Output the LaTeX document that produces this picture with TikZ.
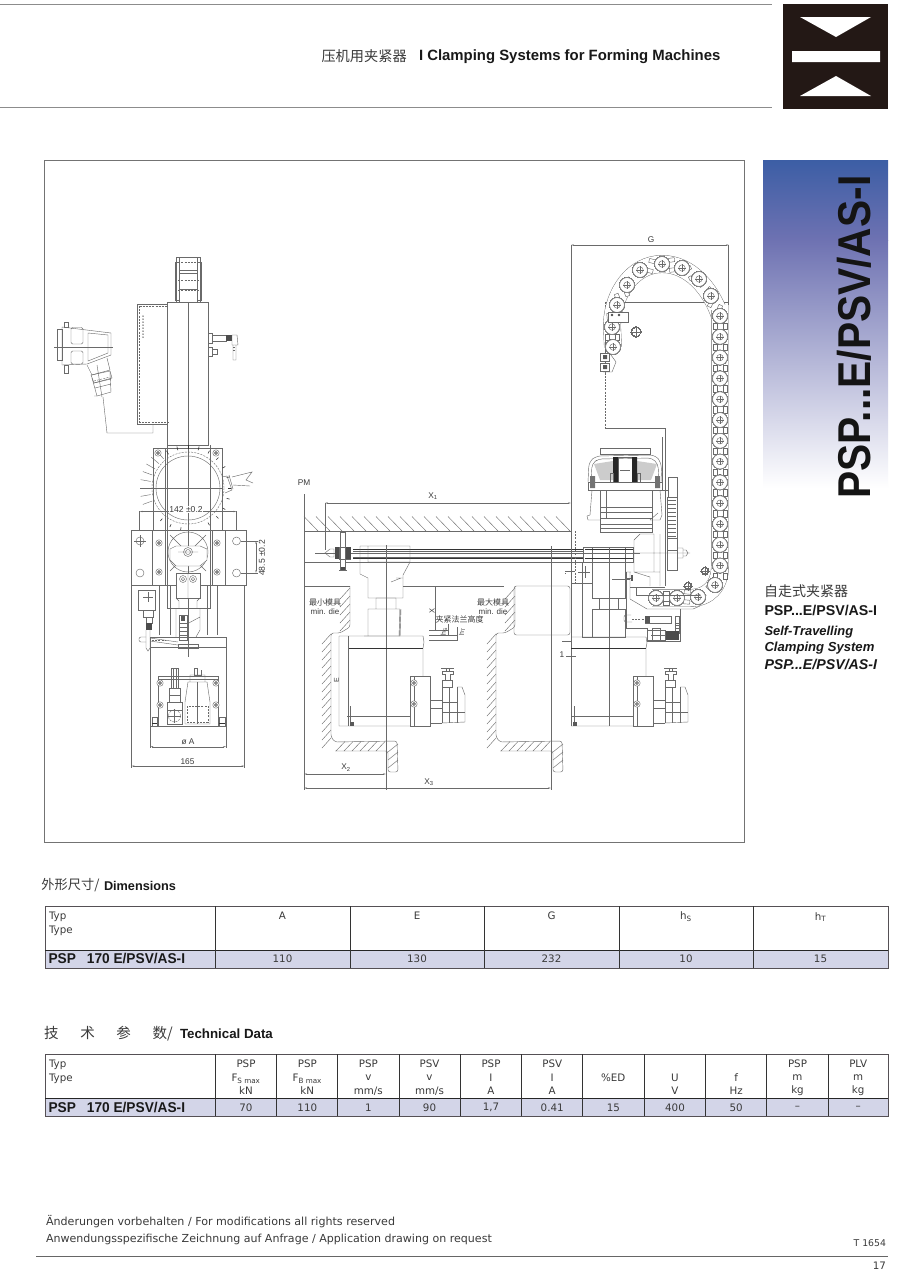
\documentclass[tikz,border=0pt]{standalone}
\usepackage{fontspec}
\usetikzlibrary{arrows.meta}
\setmainfont{Liberation Sans}
\newfontfamily\cjk{Noto Sans CJK SC}
\newfontfamily\tbf{DejaVu Sans}
\definecolor{lnc}{HTML}{6A6A6A}
\definecolor{txt}{HTML}{3A3A3A}
\definecolor{tbl}{HTML}{D3D5E8}
\definecolor{rule}{HTML}{555055}
\definecolor{logo}{HTML}{231815}
\newcount\nn
\newcommand{\T}[4][]{\global\advance\nn by 1 \node[tx,#1] (t\the\nn) at (#2,#3) {#4};}
\newcommand{\hole}[3]{\draw[ln,fill=white] (#1,#2) circle (#3);\draw[ln] (#1-#3-1,#2)--(#1+#3+1,#2) (#1,#2-#3-1)--(#1,#2+#3+1);}
\newcommand{\bolt}[2]{\draw[ln,fill=white] (#1,#2) circle (3.2);\draw[fill=lnc!70,draw=black!70,line width=.3] (#1,#2) circle (1.7);}
\newcommand{\link}[2]{\draw[ln,fill=white] (#1,#2) circle (7.4);\draw[ln] (#1,#2) circle (3.2);\draw[ln] (#1-3.6,#2)--(#1+3.6,#2) (#1,#2-3.6)--(#1,#2+3.6);}
\newcommand{\sep}[3]{\begin{scope}[shift={(#1,#2)},rotate=#3]\draw[ln,fill=white] (-7,-3.2) rectangle (-3,3.2) (3,-3.2) rectangle (7,3.2);\end{scope}}
\newcommand{\sym}[3]{\draw[dsh] (#1,#2) circle (#3);\draw[ln] (#1-#3-1,#2)--(#1+#3+1,#2) (#1,#2-#3-1)--(#1,#2+#3+1);}
\newcommand{\motorunit}[1]{\begin{scope}[shift={(#1,0)}]
 \draw[ln,fill=white] (410,676) rectangle (430,726);
 \draw[ln] (414,676)--(414,726);
 \bolt{414}{683}\bolt{414}{704}
 \draw[ln] (430,700)--(442,700) (430,708)--(442,708) (430,723)--(442,723);
 \draw[ln] (442,687)--(452,687)--(452,680)--(442,680)--(442,723) (457,687)--(457,723) (442,702)--(457,702) (449,687)--(449,723) (442,712)--(465,712);
 \draw[ln] (457,687)--(462,687)--(465,695)--(465,722)--(442,723);
 \draw[ln] (445,680)--(445,674)--(442,674)--(442,671)--(453,671)--(453,674)--(450,674)--(450,680) (446,671)--(446,668)--(449,668)--(449,671) (441,668)--(454,668);
 \end{scope}}
\newcommand{\diewall}[1]{\begin{scope}[shift={(#1,0)}]
 \draw[ln,rounded corners=2.5] (350,586)--(350,627)--(340,633)--(331,633)--(331,737)--(335,742)--(397,741)--(398,772)--(388,772)--(388,751)--(335,751);
 \foreach \y in {588,596,...,622} \draw[ln] (350,\y)--(340,\y+11);
 \foreach \y in {634,642,...,738} \draw[ln] (331,\y)--(322,\y+10);
 \foreach \x in {345,353,...,385} \draw[ln] (\x,741.5)--(\x-9,751);
 \foreach \y in {744,752,...,764} \draw[ln] (398,\y)--(388,\y+8);
 \end{scope}}
\tikzset{
 ln/.style={draw=lnc,line width=.42pt},
 dsh/.style={ln,dash pattern=on 2pt off 1.2pt},
 dk/.style={draw=black!80,line width=.8pt},
 blk/.style={fill=black!85,draw=none},
 dim/.style={ln,{Stealth[length=3pt,width=1.3pt]}-{Stealth[length=3pt,width=1.3pt]}},
 tx/.style={inner sep=0pt,outer sep=0pt,text=txt},
 tb/.style={tx,font=\tbf\fontsize{10.3}{12}\selectfont},
 tbb/.style={tx,font=\bfseries\fontsize{14.2}{16}\selectfont,text=black!90,anchor=west},
 lab/.style={tx,font=\fontsize{8.3}{10}\selectfont},
 cjl/.style={tx,font=\cjk\fontsize{8}{10}\selectfont},
 frame/.style={draw=rule,line width=.7pt},
}
\begin{document}
\begin{tikzpicture}[x=1pt,y=-1pt]
\useasboundingbox (0,0) rectangle (900,1275);
\fill[white] (0,0) rectangle (900,1275);
% ---- header
\draw[draw=black!45,line width=.8] (0,4)--(772,4) (0,107.5)--(772,107.5);
\fill[logo] (783,4) rectangle (888,109);
\fill[white] (800,17)--(871,17)--(836,37)--cycle (792,51) rectangle (880,62) (836,76)--(871,96)--(800,96)--cycle;
\T[anchor=west,font=\cjk\fontsize{14.2}{16}\selectfont]{321.5}{56}{压机用夹紧器}
\T[anchor=west,font=\bfseries\fontsize{14.9}{16}\selectfont,text=black!90]{419}{57}{I Clamping Systems for Forming Machines}
% ---- side panel
\shade[top color={rgb,255:red,110;green,114;blue,178},bottom color=white] (763,240) rectangle (888,488);
\shade[top color={rgb,255:red,60;green,94;blue,165},bottom color={rgb,255:red,110;green,114;blue,178}] (763,160) rectangle (888,240.3);
\T[rotate=90,anchor=base west,font=\bfseries\fontsize{46}{48}\selectfont,text=black!92]{870}{498.5}{\scalebox{0.885}[1]{PSP...E/PSV/AS-I}}
\T[anchor=west,font=\cjk\fontsize{14}{16}\selectfont]{764}{591}{自走式夹紧器}
\T[anchor=west,font=\bfseries\fontsize{14.2}{16}\selectfont,text=black!90]{764.5}{610.5}{PSP...E/PSV/AS-I}
\T[anchor=west,font=\bfseries\itshape\fontsize{12.9}{14}\selectfont,text=black!90]{764.5}{632.5}{Self-Travelling}
\T[anchor=west,font=\bfseries\itshape\fontsize{13.1}{14}\selectfont,text=black!90]{764.5}{648.5}{Clamping System}
\T[anchor=west,font=\bfseries\itshape\fontsize{14.2}{14}\selectfont,text=black!90]{764.5}{664.5}{PSP...E/PSV/AS-I}
% ---- frame
\draw[draw=black!55,line width=.7] (44.5,160.5) rectangle (744.5,842);

% ======== left view
\draw[ln] (176,257) rectangle (200,302) (179,257)--(179,302) (197,257)--(197,302) (179,270)--(197,270) (179,273)--(197,273) (179,289)--(197,289);
\draw[dsh] (175,262)--(201,262) (175,280)--(201,280) (175,290)--(201,290);
\draw[ln] (175,262) rectangle (179,300) (197,262) rectangle (201,300);
\draw[ln] (137.5,304) rectangle (167.7,424);
\draw[dsh] (139.5,306)--(139.5,422)--(167.7,422) (139.5,306)--(167.7,306);
\foreach \y in {316,319,...,338} \fill[black!70] (143,\y) circle (.75);
\draw[ln] (167.7,302) rectangle (208.5,445);
\draw[ln] (188,302)--(188,657);
\draw[ln] (167.7,445)--(167.7,608)--(210,608)--(210,445) (165,448)--(165,530);
% plug
\draw[ln] (62,327)--(111,333)--(111,355)--(87,364)--(62,365)--cycle;
\draw[ln,rounded corners=1.5] (71,327.5) rectangle (83,344) (71,351) rectangle (83,364);
\draw[ln] (88,333)--(108,335)--(108,353)--(88,361)--cycle;
\draw[ln] (57,329) rectangle (62,360) (64,322) rectangle (68,327) (64,365) rectangle (68,373);
\draw[ln] (54,347)--(113,347);
\draw[ln] (87,365)--(92,375)--(110,370)--(107,358) (97,365)--(102,397);
\draw[ln] (91,375)--(110,371)--(112,378)--(94,383)--cycle;
\draw[ln] (92,378)--(97,396)--(111,392)--(110,372) (94,383)--(111,379) (95,388)--(111,384) (97,396)--(94,396);
\draw[dsh] (94,381)--(110,377);
\draw[ln] (103,397)--(107,433)--(153,433)--(153,424);
% sensor top right
\draw[ln] (208.5,333) rectangle (212,343) (212,335) rectangle (226,341);
\fill[black!70] (226,335) rectangle (232,341);
\draw[ln] (232,335)--(237,335)--(238,345)--(232,345)--cycle (233,345) rectangle (236,360);
\draw[dsh] (233,347)--(236,347) (233,350)--(236,350);
\draw[ln] (208.5,347) rectangle (212,356) (212,349) rectangle (217,354);
% flange with circle
\draw[ln] (153.5,448) rectangle (222,530);
\draw[ln] (146,488)--(222,488);
\draw[ln] (188,488) circle (32);
\draw[dsh] (188,488) circle (36);
\foreach \a in {160,170,...,230} \draw[ln] ({188+38*cos(\a)},{488+38*sin(\a)})--({188+48*cos(\a)},{488+48*sin(\a)});
\foreach \a in {-60,-45,...,60,100,115,...,140} \draw[dk,line width=.6] ({188+40*cos(\a)},{488+40*sin(\a)})--({188+43*cos(\a)},{488+43*sin(\a)});
\foreach \a in {240,255,...,290} \draw[dk,line width=.6] ({188+39*cos(\a)},{488+39*sin(\a)})--({188+43*cos(\a)},{488+43*sin(\a)});
\bolt{158}{453}\bolt{216}{453}
\draw[ln] (222,477)--(227,476)--(232,490)--(225,493) (229,475) -- (233,489);
\draw[ln] (232,477)--(252,472)--(246,480)--(253,483) (233,485)--(250,486);
% 142 dim
\draw[dim] (139.5,511.5)--(236.5,511.5);
\draw[ln] (139.5,511)--(139.5,530) (236.5,511)--(236.5,530);
\T[lab,fill=white,font=\fontsize{8.6}{10}\selectfont]{186}{509.5}{142 ±0.2}
% lower plate
\draw[ln] (131,530) rectangle (246,585);
\draw[ln] (152,530)--(152,585) (165,530)--(165,585) (212,530)--(212,585) (225,530)--(225,585);
\foreach \x in {140,236.5}{\draw[ln] (\x,541) circle (4);\draw[ln] (\x,573) circle (4);}
\draw[ln] (134,541)--(146,541) (140,535)--(140,547);
\bolt{159}{543}\bolt{159}{572}\bolt{217}{543}\bolt{217}{572}
\draw[ln] (188,552) circle (20) (170,535)--(206,571) (170,571)--(206,535);
\draw[ln,fill=white] (170,549)--(176,546)--(200,546)--(207,549)--(207,560)--(200,566)--(176,566)--(170,560)--cycle;
\draw[ln] (188,552) circle (4.5) (188,552) circle (2.5) (178,552)--(198,552);
\draw[ln,fill=white] (176,573) rectangle (200,598);
\draw[ln] (183,579) circle (3.5) (183,579) circle (1.7) (193,579) circle (3.5) (193,579) circle (1.7);
\draw[ln] (176,598)--(179,601)--(179,608) (200,598)--(197,601)--(197,608) (188,573)--(188,598);
\draw[ln] (159,585)--(159,635) (170,585)--(170,635) (207,585)--(207,635) (217,585)--(217,635);
\draw[ln] (176,608)--(176,637) (200,608)--(200,630)--(196,637) (185,625)--(200,617);
% small sensor
\draw[ln,fill=white] (138,590) rectangle (155,610) (143,610) rectangle (153,617);
\draw[ln] (143,597)--(153,597) (148,592)--(148,602) (146,617) rectangle (152,623);
\fill[black!70] (146,623) rectangle (152,630);
\draw[ln] (146,630)--(146,648)--(148,651)--(150,648)--(150,630);
\draw[ln,rounded corners=2] (146,637)--(139,637)--(139,642)--(146,642) (150,638)--(178,642) (150,641)--(178,645);
\draw[dsh] (152,640)--(165,640);
\draw[ln,fill=white] (179,615) rectangle (187,640);
\fill[black!65] (181,616) rectangle (185,621);
\foreach \y in {623,627,...,637}\draw[ln] (179,\y)--(187,\y);
% base
\draw[ln] (150.5,637)--(226,637) (150.5,647)--(226,647) (150.5,637)--(150.5,726)--(226,726)--(226,637);
\draw[ln] (178,644) rectangle (198,648);
\draw[ln] (158,676) rectangle (218,726) (158,679)--(218,679);
\bolt{160}{683}\bolt{160}{705}\bolt{216}{683}\bolt{216}{705}
\draw[ln] (152,717) rectangle (157,726) (219,717) rectangle (225,726);
\draw[dk,line width=.5] (152,723)--(157,723) (219,723)--(225,723);
\draw[ln] (171,668) rectangle (178,688) (173,668)--(173,688) (176,668)--(176,688);
\draw[ln] (169,688) rectangle (180,702) (169,695)--(180,695);
\draw[ln] (167,702) rectangle (182,724) (167,710)--(182,710);
\draw[dsh] (174.5,716) circle (6);
\draw[ln] (168,716)--(181,716) (174.5,709)--(174.5,723);
\draw[ln] (194,668)--(197,668)--(197,675) (194,668)--(194,675)--(201,675)--(201,670);
\draw[ln] (190,675) rectangle (205,682) (188,682)--(207,682)--(210,702)--(210,724)--(185,724)--(185,702)--cycle;
\draw[dsh] (187,706) rectangle (208,722);
\draw[ln] (197.5,682)--(197.5,724);
% dims
\draw[ln] (131.5,585)--(131.5,768) (244.5,585)--(244.5,768) (150.5,726)--(150.5,748) (226,726)--(226,748);
\draw[dim] (150.5,746.7)--(226,746.7);
\draw[dim] (131.5,766)--(244.5,766);
\T[lab]{188}{741.5}{ø A}
\T[lab]{187.5}{761.5}{165}
\draw[dim] (256,541)--(256,573);
\draw[ln] (241,541)--(258,541) (241,573)--(258,573);
\T[lab,rotate=90,font=\fontsize{8.6}{10}\selectfont]{262}{558}{48.5 ±0.2}

% ======== middle view
\T[lab]{304}{483}{PM}
\draw[ln] (304,494)--(304,790);
\draw[dim] (325,503)--(571,503);
\draw[ln] (325,503)--(325,550);
\T[lab]{433}{496}{X\textsubscript{1}}
\draw[ln] (304,531)--(571,531);
\foreach \x in {304,316,...,556} \draw[ln] (\x,516.5)--(\x+14,531);
\draw[ln] (304,562)--(575,562);
\draw[ln] (304,586)--(350,586) (403,586)--(504,586);
% rod & nut
\draw[dk] (353,549)--(585,549) (353,558)--(585,558);
\draw[draw=black!60,line width=.5] (353,551)--(585,551) (353,556.8)--(585,556.8);
\draw[ln] (315,553)--(590,553);
\draw[ln] (325,553)--(330,549)--(334,549)--(334,557)--(330,557)--cycle;
\fill[black!70] (335,547) rectangle (339,559);
\draw[ln,fill=white] (340,532) rectangle (345,569);
\draw[ln] (339,547) rectangle (350,559);
\fill[black!70] (346,547) rectangle (351,559);
\fill[black!70] (341,567) rectangle (345,570);
\draw[ln] (339,570)--(347,570);
% head
\draw[ln] (360,546)--(410,546)--(410,562) (360,546)--(360,574)--(368,578)--(368,598)--(403,598) (368,546)--(368,562)--(410,562) (410,562)--(403,575)--(403,598);
\draw[ln] (376,598) rectangle (396,609) (368,609) rectangle (400,636) (396,578)--(403,578) (391,582)--(401,578);
\draw[ln] (400,609)--(399,636) (401,609)--(400,636) (368,636)--(364,636);
\draw[ln] (386,545)--(386,790);
% die body
\draw[ln] (339,636)--(423,636)--(424,642)--(423,648)--(423,676) (339,636)--(339,726)--(430,726);
\draw[dk] (348,648.5)--(423,648.5);
\draw[ln] (348,636)--(348,726);
\draw[ln] (350,706)--(350,726) (347,716)--(410,716);
\fill[black!65] (350,722) rectangle (354,726);
\T[lab,rotate=90,font=\fontsize{7}{8}\selectfont]{336.5}{680}{E}
\motorunit{0}
% walls
\diewall{0}
\diewall{165}
\T[cjl]{325}{602}{最小模具}
\T[lab,font=\fontsize{8}{10}\selectfont]{325}{611.5}{min. die}
\T[cjl]{493}{602}{最大模具}
\T[lab,font=\fontsize{8}{10}\selectfont]{493}{611.5}{min. die}
\draw[ln,rounded corners=2.5] (514,586) rectangle (570,635);
\draw[ln] (435,586)--(435,630);
\draw[ln] (429,630)--(449,630) (429,635)--(458,635) (429,640)--(458,640) (448,624)--(448,635) (457,627)--(457,640) ;
\T[lab,rotate=90,font=\fontsize{7.5}{9}\selectfont]{432}{610.5}{X}
\T[cjl]{459.5}{619.5}{夹紧法兰高度}
\T[lab,rotate=90,font=\fontsize{7}{8}\selectfont]{444}{632}{h\textsubscript{S}}
\T[lab,rotate=90,font=\fontsize{7}{8}\selectfont]{462}{632}{h\textsubscript{T}}
\draw[dim] (304,774)--(386,774);
\T[lab]{346}{767.5}{X\textsubscript{2}}
\draw[dim] (304,788)--(551,788);
\T[lab]{429}{782}{X\textsubscript{3}}
\draw[ln] (551,546)--(551,790);

% ======== right view
\draw[ln] (571,245)--(571,726);
\draw[dim] (571,245)--(729,245);
\T[lab]{651}{239.5}{G}
\draw[ln] (605,302)--(728,302) (728.5,245)--(728.5,400);
\draw[ln] (605,428)--(665,428) (665,428)--(665,586);
\draw[dsh] (605,302)--(605,428);
\draw[dsh] (575,531)--(575,585);
\draw[ln] (566,656.5)--(576,656.5);
\T[lab]{562}{654.5}{1}
\draw[ln] (562,641)--(571,641);
\draw[ln] (565,571)--(575,571) (565,573)--(566,573);
% chain band
\draw[line width=17.8pt,draw=lnc,line cap=butt] (720,316) .. controls (711,289) and (690,264) .. (662,264) .. controls (634,264) and (612,292) .. (612,327) -- (613,347);
\draw[line width=17pt,draw=white,line cap=butt] (720,316) .. controls (711,289) and (690,264) .. (662,264) .. controls (634,264) and (612,292) .. (612,327) -- (613,347);
\draw[line width=17.8pt,draw=lnc,line cap=butt] (720,310)--(720,566) .. controls (720,586) and (708,598) .. (690,598)--(652,598);
\draw[line width=17pt,draw=white,line cap=butt] (720,305)--(720,566) .. controls (720,586) and (708,598) .. (690,598)--(652,598);
\draw[ln] (605,340)--(605,375);
\foreach \x/\y/\a in {715/306/-25,705/287/-40,690/273/-65,672/265/-82,651/266/75,633/277/45,622/295/22,614/316/5,612/337/0,720/326.4/0,720/347.2/0,720/368/0,720/388.8/0,720/409.6/0,720/430.4/0,720/451.2/0,720/472/0,720/492.8/0,720/513.6/0,720/534.4/0,720/555.2/0,720/576/0,706/591/45,687/597/85,666/598/90} \sep{\x}{\y}{\a}
\foreach \x/\y in {720/316,711/296,699/279,682/268,662/264,640/270,627/285,617/305,612/327,613/347,720/336.8,720/357.6,720/378.4,720/399.2,720/420,720/440.8,720/461.6,720/482.4,720/503.2,720/524,720/544.8,720/565.6,715/585,698/597,677/598,656/598} \link{\x}{\y}
\sym{636}{332}{5}
\sym{705}{571}{3.6}
\sym{688}{586}{3.6}
% chain mounts
\draw[ln,fill=white] (608,312) rectangle (628,322);
\fill[black!70] (612,315) circle (1.4) (619,315) circle (1.4);
\draw[ln,fill=white] (611,355)--(616,362)--(612,372)--(603,372);
\draw[ln,fill=white] (600,353) rectangle (609,361) (600,363) rectangle (609,371);
\fill[black!65] (603,355) rectangle (607,359) (603,365) rectangle (607,369);
% motor
\draw[ln,fill=white] (600,448) rectangle (650,454) (600,448)--(600,454);
\draw[ln,rounded corners=5,fill=white] (588,482)--(589,462)--(596,456)--(655,455)--(661,462)--(662,482);
\draw[ln,rounded corners=4] (591,482)--(592,464)--(598,459)--(652,458)--(658,464)--(659,482);
\fill[gray!40] (594,464)--(613,461)--(613,480)--(600,480)--cycle (637,461)--(657,464)--(651,480)--(637,480)--cycle;
\draw[ln] (618,457) rectangle (632,482);
\fill[black!85] (613,457) rectangle (618,482) (632,457) rectangle (637,482);
\draw[ln] (610,473) rectangle (613,482) (637,473) rectangle (640,482) (620,470)--(630,470);
\draw[ln,fill=white] (588,482) rectangle (662,490);
\fill[black!55] (590,476) rectangle (595,488) (655,476) rectangle (660,488);
\draw[ln] (592,490)--(590,515)--(587,516)--(588,520)--(600,520) (660,490)--(662,515)--(660,520)--(650,520);
\draw[ln] (600,490)--(600,532)--(652,532)--(652,490) (606,490)--(606,518);
\foreach \y in {507,512,518,524,528} \draw[ln] (600,\y)--(652,\y);
\draw[ln] (650,520)--(658,513);
% belt
\draw[ln] (665,437)--(665,486) (662,437) -- (662,490) ;
\draw[ln] (661,490)--(668,490)--(668,477)--(677,477)--(677,497)--(668,497)--(668,490);
\draw[ln] (667,497)--(677,497) (667,497) -- (667,540) (677,497)--(677,550);
\foreach \y in {500,504,...,540} \draw[ln] (668,\y)--(676,\y);
\draw[ln,fill=white] (667,538) rectangle (677,570) (667,550)--(677,550);
\draw[ln] (677,548)--(683,548)--(683,558)--(677,558) (683,550)--(686,550)--(688,553)--(686,556)--(683,556);
% drive block
\draw[ln] (654,534)--(640,534)--(634,540)--(634,572)--(660,572) (654,534)--(654,572) (660,534)--(660,586) (634,572)--(650,577)--(650,586) (633,553)--(690,553);
% right head
\draw[ln,fill=white] (583,547) rectangle (633,562) (592,547)--(592,598)--(625,598)--(625,562) (592,562)--(633,562) (625,547)--(625,562);
\draw[ln] (599,598) rectangle (618,609) (592,609) rectangle (625,637) (582,562)--(582,637)--(592,637);
\draw[dk] (585,549)--(633,549) (585,558)--(633,558);
\draw[ln] (609,547)--(609,726);
\draw[ln] (583,553)--(640,553);
\draw[ln] (571,562)--(592,562) (571,583)--(592,583) (578,572)--(590,572) (585,566)--(585,578);
% bracket
\draw[ln] (626,572)--(631,572) (630,572)--(630,599)--(647,609)--(693,609)--(700,606);
\draw[ln] (630,587)--(665,587) (636,587)--(636,595)--(700,595) (626,572)--(626,628)--(647,628);
\draw[ln] (625,578)--(632,578) (612,579)--(630,579);
\fill[black!65] (631,575) rectangle (633,581);
\draw[ln] (680,609)--(680,641)--(647,641)--(647,628) (625,628)--(647,628);
\draw[ln,rounded corners=2] (631,615)--(624,615)--(624,622)--(632,622);
\draw[dsh] (632,619)--(646,619);
\draw[ln] (645,616) rectangle (671,623);
\fill[black!65] (645,616) rectangle (650,623);
\draw[ln] (675,616) rectangle (679,623) (675,623) rectangle (679,633);
\foreach \y in {625,628,...,633} \draw[ln] (675,\y)--(679,\y);
\draw[ln,fill=white] (647,630) rectangle (665,640) (652,628) rectangle (660,640);
\fill[black!70] (666,631) rectangle (679,640);
\draw[ln] (651,635)--(666,635);
% base right
\draw[ln] (571,637)--(646,637)--(647,643)--(646,648)--(646,676) (571,726)--(653,726) (604,637)--(604,637);
\draw[dk] (571,648.5)--(646,648.5);
\draw[ln] (574,706)--(574,726) (571,716)--(633,716);
\fill[black!65] (573,722) rectangle (577,726);
\motorunit{223}

% ======== tables
\T[anchor=west,font=\cjk\fontsize{13.2}{15}\selectfont]{41.5}{885.5}{外形尺寸/}
\T[anchor=west,font=\bfseries\fontsize{12.7}{15}\selectfont,text=black!90]{104}{885.5}{Dimensions}
\fill[tbl] (45,950) rectangle (888,968);
\draw[frame] (45,906) rectangle (888,968);
\draw[draw=black!85,line width=.7] (45,950)--(888,950);
\foreach \x in {215,350,484.5,619,753.5} \draw[draw=black!80,line width=.7] (\x,906)--(\x,968);
\T[tb,anchor=west]{49}{916.5}{Typ}
\T[tb,anchor=west]{49}{931}{Type}
\foreach \x/\a/\b in {282.5/A/110,417/E/130,551.5/G/232}{\T[tb]{\x}{915.5}{\a}\T[tb]{\x}{958.5}{\b}}
\T[tb]{686}{917}{h\textsubscript{S}}
\T[tb]{820.5}{917}{h\textsubscript{T}}
\T[tb]{686}{958.5}{10}
\T[tb]{820.5}{958.5}{15}
\T[tbb]{48.5}{958.5}{\scalebox{.965}[1]{PSP\hspace{.8em}170 E/PSV/AS-I}}
\T[anchor=west,font=\cjk\fontsize{14.5}{15}\selectfont]{44}{1033.5}{技\hspace{1.5em}术\hspace{1.5em}参\hspace{1.5em}数/}
\T[anchor=west,font=\bfseries\fontsize{13.3}{15}\selectfont,text=black!90]{180}{1033.5}{Technical Data}
\fill[tbl] (45,1098.5) rectangle (888,1116);
\draw[frame] (45,1054) rectangle (888,1116);
\draw[draw=black!85,line width=.7] (45,1098.5)--(888,1098.5);
\foreach \x in {215,276.7,337.7,399,460,521.7,582.7,644,705.7,766.7,828.3} \draw[draw=black!80,line width=.7] (\x,1054)--(\x,1116);
\T[tb,anchor=west]{49}{1065}{Typ}
\T[tb,anchor=west]{49}{1078.5}{Type}
\T[tb]{246}{1064}{PSP}
\T[tb]{246}{1078.5}{F\textsubscript{S max}}
\T[tb]{246}{1091}{kN}
\T[tb]{307.3}{1064}{PSP}
\T[tb]{307.3}{1078.5}{F\textsubscript{B max}}
\T[tb]{307.3}{1091}{kN}
\foreach \x/\a/\b/\c/\v in {368.3/PSP/v/{mm/s}/1,429.5/PSV/v/{mm/s}/90,491/PSP/I/A/{1,7},552.2/PSV/I/A/0.41,797.5/PSP/m/kg/–,858.2/PLV/m/kg/–}{\T[tb]{\x}{1064}{\a}\T[tb]{\x}{1077.5}{\b}\T[tb]{\x}{1091}{\c}\T[tb]{\x}{1107.5}{\v}}
\T[tb]{613.3}{1077.5}{\%ED}
\T[tb]{613.3}{1107.5}{15}
\T[tb]{675}{1077.5}{U}
\T[tb]{675}{1091}{V}
\T[tb]{675}{1107.5}{400}
\T[tb]{736.2}{1077.5}{f}
\T[tb]{736.2}{1091}{Hz}
\T[tb]{736.2}{1107.5}{50}
\T[tb]{246}{1107.5}{70}
\T[tb]{307.3}{1107.5}{110}
\T[tbb]{48.5}{1107}{\scalebox{.965}[1]{PSP\hspace{.8em}170 E/PSV/AS-I}}
% ---- footer
\T[anchor=west,font=\tbf\fontsize{11.1}{13}\selectfont]{46}{1222}{Änderungen vorbehalten / For modifications all rights reserved}
\T[anchor=west,font=\tbf\fontsize{11.05}{13}\selectfont]{46}{1239}{Anwendungsspezifische Zeichnung auf Anfrage / Application drawing on request}
\T[anchor=east,font=\tbf\fontsize{9.3}{11}\selectfont]{886}{1243.5}{T 1654}
\draw[draw=black!60,line width=.7] (36,1256)--(888,1256);
\T[anchor=east,font=\tbf\fontsize{10.3}{12}\selectfont]{886}{1266}{17}
\end{tikzpicture}
\end{document}
